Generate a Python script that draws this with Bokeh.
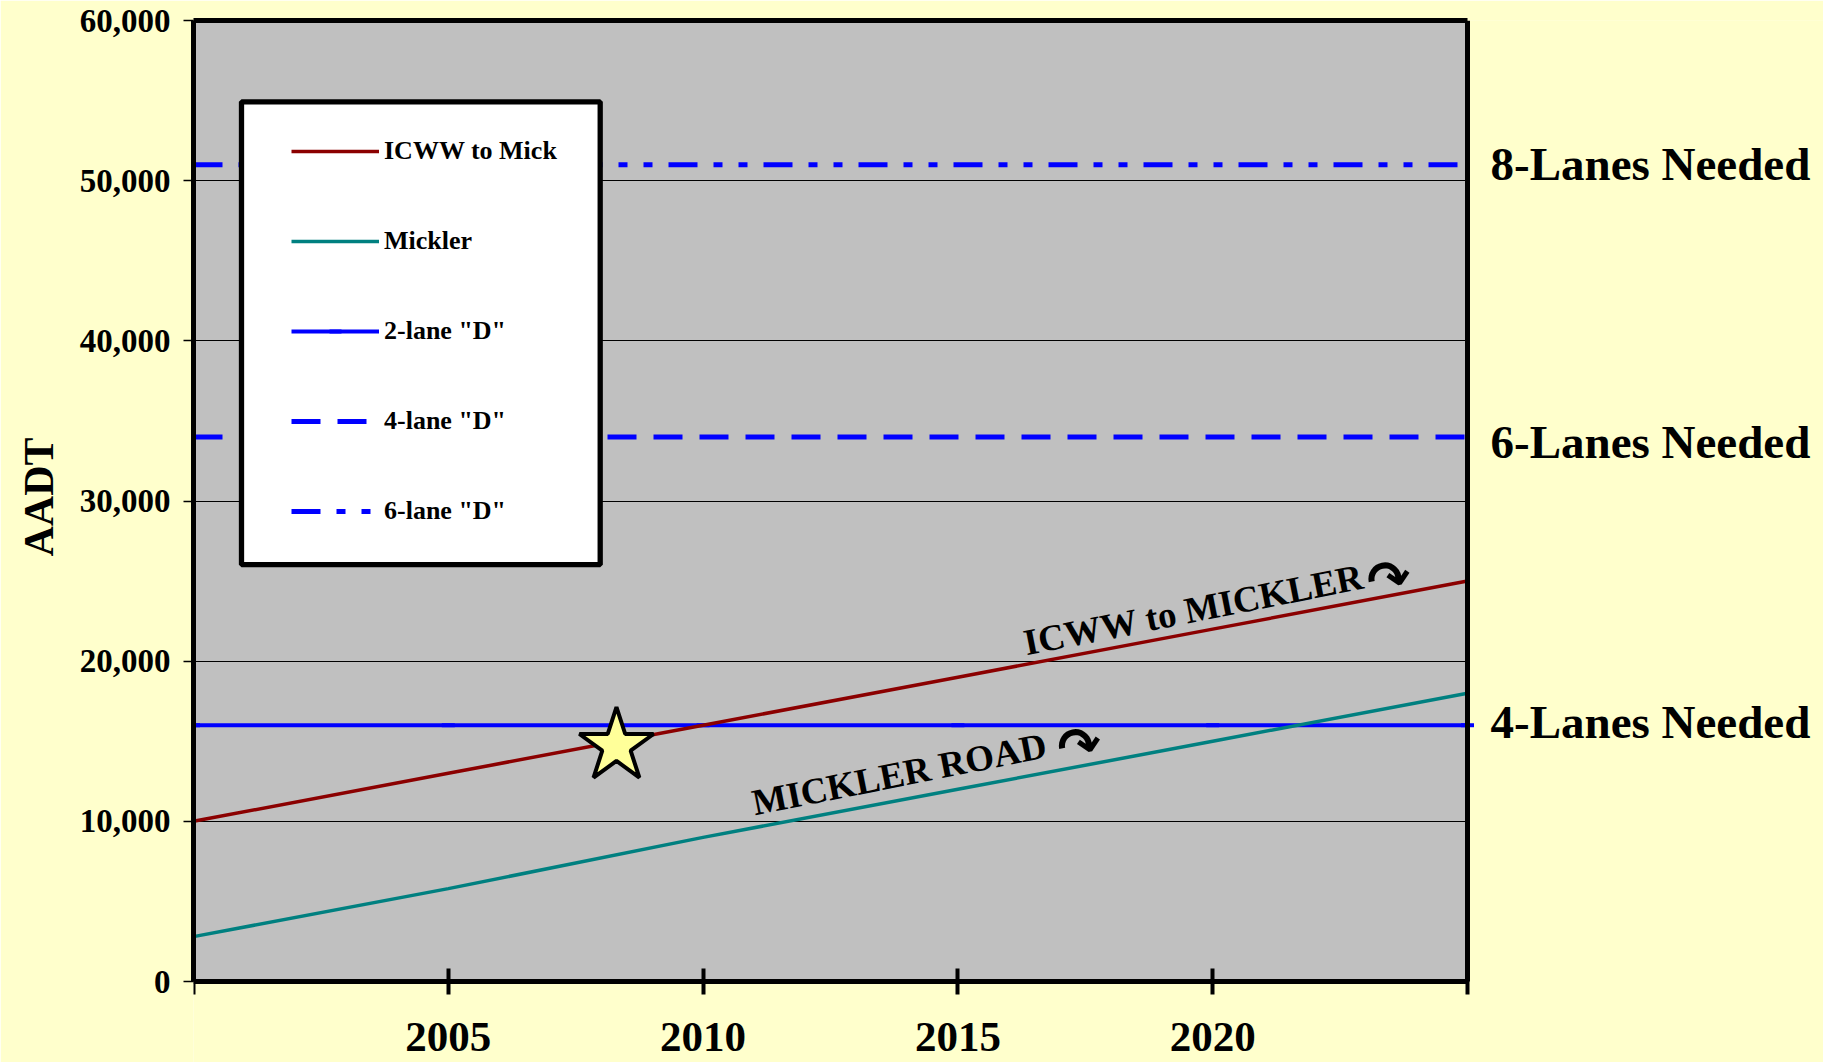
from bokeh.plotting import figure
from bokeh.models import (Range1d, FixedTicker, NumeralTickFormatter, Legend,
                          LegendItem, Label, BoxAnnotation, LinearAxis, Title)
from bokeh.embed import file_html
from bokeh.resources import INLINE

# ---------------- data ----------------
years = [2000, 2005, 2010, 2015, 2020, 2025]
icww_to_mick = [10000, 13000, 16000, 19000, 22000, 25000]
mickler = [2800, 5800, 9000, 12000, 15000, 18000]
two_lane_d = [16000, 16000, 16000, 16000, 16000, 16000]
four_lane_d = [34000, 34000, 34000, 34000, 34000, 34000]
six_lane_d = [51000, 51000, 51000, 51000, 51000, 51000]
star_year = [2008.3]
star_aadt = [14700]

x_tick_years = [2000, 2005, 2010, 2015, 2020, 2025]
x_tick_labels = ["", "2005", "2010", "2015", "2020", ""]
y_ticks = [0, 10000, 20000, 30000, 40000, 50000, 60000]
y_axis_title = "AADT"
series_names = ["ICWW to Mick", "Mickler", '2-lane "D"', '4-lane "D"', '6-lane "D"']
needed_text = ["8-Lanes Needed", "6-Lanes Needed", "4-Lanes Needed"]
needed_level = [51000, 34000, 16000]
road_text = ["ICWW to MICKLER", "MICKLER ROAD"]
road_anchor_year = [2016.3, 2010.97]
road_anchor_aadt = [20630, 10645]
arrow_anchor_year = [2023.46, 2017.39]
arrow_anchor_aadt = [25500, 15080]

# ---------------- styles / layout ----------------
FONT = "Liberation Serif"
PAGE_BG = "#FFFFCC"
PLOT_BG = "#C0C0C0"
RED = "#8B0000"
TEAL = "#008080"
BLUE = "#0000FF"

X0, X1 = 2000, 2025           # chart area, data units
Y0, Y1 = 0, 60000
PLOT_W, PLOT_H = 1274, 961    # chart area, pixels
LEFT, TOP = 193, 20
TOTAL_W, TOTAL_H = 1823, 1062
FRAME_W = TOTAL_W - LEFT
FRAME_H = TOTAL_H - TOP
x_end = X1 + (FRAME_W - PLOT_W) * (X1 - X0) / PLOT_W
y_start = Y0 - (FRAME_H - PLOT_H) * (Y1 - Y0) / PLOT_H
FRAME_BOTTOM = TOP + FRAME_H   # page y of the frame bottom

p = figure(frame_width=FRAME_W, frame_height=FRAME_H,
           min_border_left=LEFT, min_border_right=0,
           min_border_top=TOP, min_border_bottom=0,
           x_range=Range1d(X0, x_end), y_range=Range1d(y_start, Y1),
           output_backend="svg", toolbar_location=None,
           background_fill_color=PAGE_BG, border_fill_color=PAGE_BG,
           outline_line_color=None)

# grey chart area (drawn beneath the grid)
p.add_layout(BoxAnnotation(left=X0, right=X1, bottom=Y0, top=Y1,
                           fill_color=PLOT_BG, fill_alpha=1,
                           line_color=None, level="image"))

# grid
p.xgrid.grid_line_color = None
p.ygrid.grid_line_color = "black"
p.ygrid.grid_line_width = 1
p.ygrid.ticker = FixedTicker(ticks=y_ticks)

# hide grid lines to the right of the chart area
p.add_layout(BoxAnnotation(left=X1, fill_color=PAGE_BG, fill_alpha=1,
                           line_color=PAGE_BG, line_width=3,
                           level="underlay"))

# y axis
ya = p.yaxis[0]
ya.bounds = (Y0, Y1)
ya.ticker = FixedTicker(ticks=y_ticks)
ya.formatter = NumeralTickFormatter(format="0,0")
ya.major_tick_in = 0
ya.major_tick_out = 10
ya.major_tick_line_width = 1.3
ya.minor_tick_line_color = None
ya.axis_line_width = 5
ya.major_label_text_font = FONT
ya.major_label_text_font_style = "bold"
ya.major_label_text_font_size = "33px"
ya.major_label_text_color = "black"
ya.major_label_standoff = 13

# y-axis title, placed along the chart area
p.add_layout(Title(text=y_axis_title, align="left", vertical_align="top",
                   offset=FRAME_BOTTOM - 556, standoff=25,
                   text_font=FONT, text_font_style="bold",
                   text_font_size="42px", text_color="black"), "left")

# x axis, drawn along AADT = 0
xa = p.xaxis[0]
xa.fixed_location = Y0
xa.bounds = (X0, X1)
xa.ticker = FixedTicker(ticks=x_tick_years)
xa.major_label_overrides = {y: t for y, t in zip(x_tick_years, x_tick_labels)}
xa.major_tick_in = 13
xa.major_tick_out = 13
xa.major_tick_line_width = 4
xa.minor_tick_line_color = None
xa.axis_line_width = 5
xa.major_label_text_font = FONT
xa.major_label_text_font_style = "bold"
xa.major_label_text_font_size = "43px"
xa.major_label_text_color = "black"
xa.major_label_standoff = 28

# top and right borders of the chart area
top_axis = LinearAxis(bounds=(X0, X1), ticker=FixedTicker(ticks=[]),
                      major_tick_in=0, major_tick_out=0,
                      minor_tick_line_color=None,
                      major_label_text_font_size="0px",
                      axis_line_width=5, axis_line_color="black")
p.add_layout(top_axis, "above")
right_axis = LinearAxis(fixed_location=X1, bounds=(Y0, Y1),
                        ticker=FixedTicker(ticks=[]),
                        major_tick_in=0, major_tick_out=0,
                        minor_tick_line_color=None,
                        major_label_text_font_size="0px",
                        axis_line_width=5, axis_line_color="black")
p.add_layout(right_axis, "right")

# threshold lines
r_six = p.line(years, six_lane_d, line_color=BLUE, line_width=5,
               line_dash="29 16 9 16 9 16")
r_four = p.line(years, four_lane_d, line_color=BLUE, line_width=5,
                line_dash="29 17")
r_two = p.line(years, two_lane_d, line_color=BLUE, line_width=4)
r_two_m = p.scatter(years, two_lane_d, marker="dash", size=13,
                    line_color=BLUE, line_width=4)

# road series
r_icww = p.line(years, icww_to_mick, line_color=RED, line_width=3.5)
r_mick = p.line(years, mickler, line_color=TEAL, line_width=3.5)

# star
p.scatter(star_year, star_aadt, marker="star", size=78,
          fill_color="#FFFF99", line_color="black", line_width=4)

# legend box + legend (screen units from the frame's bottom-left corner)
box = BoxAnnotation(left=241 - LEFT, right=599.7 - LEFT,
                    top=FRAME_BOTTOM - 101.3, bottom=FRAME_BOTTOM - 564.2,
                    left_units="screen", right_units="screen",
                    top_units="screen", bottom_units="screen",
                    fill_color="white", fill_alpha=1,
                    line_color="black", line_width=5.3, line_alpha=1)
p.add_layout(box)

legend = Legend(items=[
    LegendItem(label=series_names[0], renderers=[r_icww]),
    LegendItem(label=series_names[1], renderers=[r_mick]),
    LegendItem(label=series_names[2], renderers=[r_two, r_two_m]),
    LegendItem(label=series_names[3], renderers=[r_four]),
    LegendItem(label=series_names[4], renderers=[r_six]),
], location=(281 - LEFT, FRAME_BOTTOM - 535.5), orientation="vertical",
    margin=0, padding=10,
    spacing=60, glyph_width=88, glyph_height=30, label_height=30,
    label_standoff=5,
    label_text_font=FONT, label_text_font_style="bold",
    label_text_font_size="26px", label_text_color="black",
    border_line_alpha=0, background_fill_alpha=0)
p.add_layout(legend)

# right-side "Lanes Needed" labels
needed_dy = [-1, 5, -3]
for txt, lvl, dy in zip(needed_text, needed_level, needed_dy):
    p.add_layout(Label(x=X1, y=lvl, x_offset=23, y_offset=-dy, text=txt,
                       text_font=FONT, text_font_style="bold",
                       text_font_size="47px", text_color="black",
                       text_align="left", text_baseline="alphabetic"))

# rotated road annotations
for txt, xx, yy in zip(road_text, road_anchor_year, road_anchor_aadt):
    p.add_layout(Label(x=xx, y=yy, y_offset=8, text=txt, angle=11.2,
                       angle_units="deg",
                       text_font=FONT, text_font_style="bold",
                       text_font_size="37px", text_color="black",
                       text_align="left", text_baseline="alphabetic"))
for xx, yy in zip(arrow_anchor_year, arrow_anchor_aadt):
    p.add_layout(Label(x=xx, y=yy, y_offset=-6, text="\u21b7", angle=11.2,
                       angle_units="deg",
                       text_font="DejaVu Sans", text_font_style="bold",
                       text_font_size="52px", text_color="black",
                       text_align="center", text_baseline="middle"))

open("out.html", "w").write(file_html(p, INLINE))
